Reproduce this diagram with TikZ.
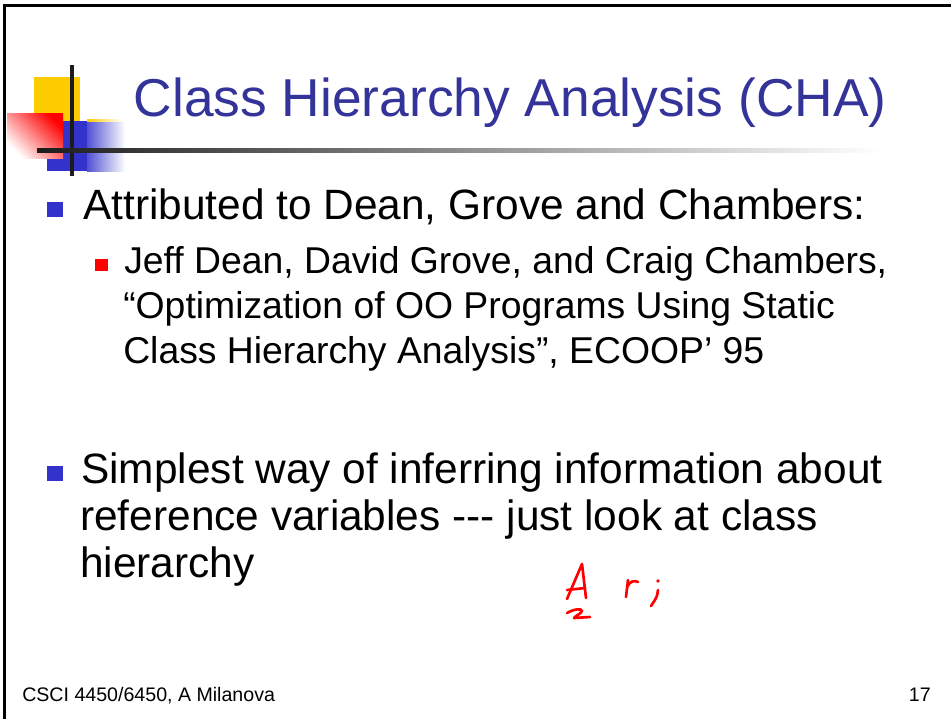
\documentclass[tikz,border=0pt]{standalone}
\usepackage{fontspec}
\setmainfont{Liberation Sans}
\usepackage{tikz}
\definecolor{titleblue}{RGB}{51,51,153}
\definecolor{bulletblue}{RGB}{51,51,204}
\definecolor{logoyellow}{RGB}{255,204,0}
\definecolor{bardark}{RGB}{28,28,28}
\tikzset{
  slidetitle/.style={anchor=base west, inner sep=0pt, text=titleblue, font=\fontsize{40pt}{48pt}\selectfont},
  lvlone/.style={anchor=base west, inner sep=0pt, font=\fontsize{31.8pt}{38pt}\selectfont},
  lvltwo/.style={anchor=base west, inner sep=0pt, font=\fontsize{28pt}{34pt}\selectfont},
  foot/.style={anchor=base west, inner sep=0pt, font=\fontsize{14.7pt}{17pt}\selectfont},
  ink/.style={red, line width=2pt, line cap=round, line join=round}
}

\begin{document}
\begin{tikzpicture}[x=0.75pt, y=-0.75pt]
    		\useasboundingbox[fill=white] (0,0) rectangle (951,719);
    		
    		% frame
    		\draw[line width=2.25pt] (4.5,719) -- (4.5,5.5) -- (951,5.5);
    		
    		% logo
    		\fill[logoyellow] (34,77) rectangle (80,121);
    		\shade[left color=logoyellow, right color=white] (87,119) rectangle (122,122);
    		\fill[bulletblue] (47,121) rectangle (87,171);
    		\shade[left color=bulletblue!85, right color=white] (87,122) rectangle (125,171);
    		\shade[top color=red, bottom color=white, shading angle=-45] (7,113) rectangle (63,158);
    		\fill[bardark] (70,65) rectangle (74,176);
    		\shade[left color=bardark, right color=white] (37,148) rectangle (880,152);
    		
    		\draw(133.5,116) node[slidetitle] (ttl) {Class Hierarchy Analysis (CHA)};
    		
    		\fill[bulletblue] (47,202) rectangle (63,217);
    		\draw(83,219) node[lvlone] (attr) {Attributed to Dean, Grove and Chambers:};
    		\fill[red] (95,259) rectangle (108,271);
    		\draw(124,273) node[lvltwo] (refa) {Jeff Dean, David Grove, and Craig Chambers,};
    		\draw(123,318) node[lvltwo] (refb) {“Optimization of OO Programs Using Static};
    		\draw(123,363) node[lvltwo] (refc) {Class Hierarchy Analysis”, ECOOP’ 95};
    		
    		\fill[bulletblue] (47,466) rectangle (63,481);
    		\draw(81,483) node[lvlone] (simpa) {Simplest way of inferring information about};
    		\draw(80,530) node[lvlone] (simpb) {reference variables -{}-{}- just look at class};
    		\draw(80,577) node[lvlone] (simpc) {hierarchy};
    		
    		% handwriting
    		\draw[ink] (567,599) -- (582,564) -- (586,598);
    		\draw[ink] (567,590) -- (585,588);
    		\draw[ink] (567,613) .. controls (574,609) and (582,608) .. (582,611) .. controls (581,614) and (575,616) .. (574,618) -- (590,617);
    		\draw[ink] (626,597) -- (628,580);
    		\draw[ink] (627,587) .. controls (630,581) and (634,580) .. (638,582);
    		\fill[red] (658,581) circle (1.8);
    		\draw[ink] (658,590) .. controls (657,597) .. (651,606);
    		
    		\draw(22,701) node[foot] (course) {CSCI 4450/6450, A Milanova};
    		\draw(931,701) node[foot, anchor=base east] (pgno) {17};
    	\end{tikzpicture}
\end{document}
